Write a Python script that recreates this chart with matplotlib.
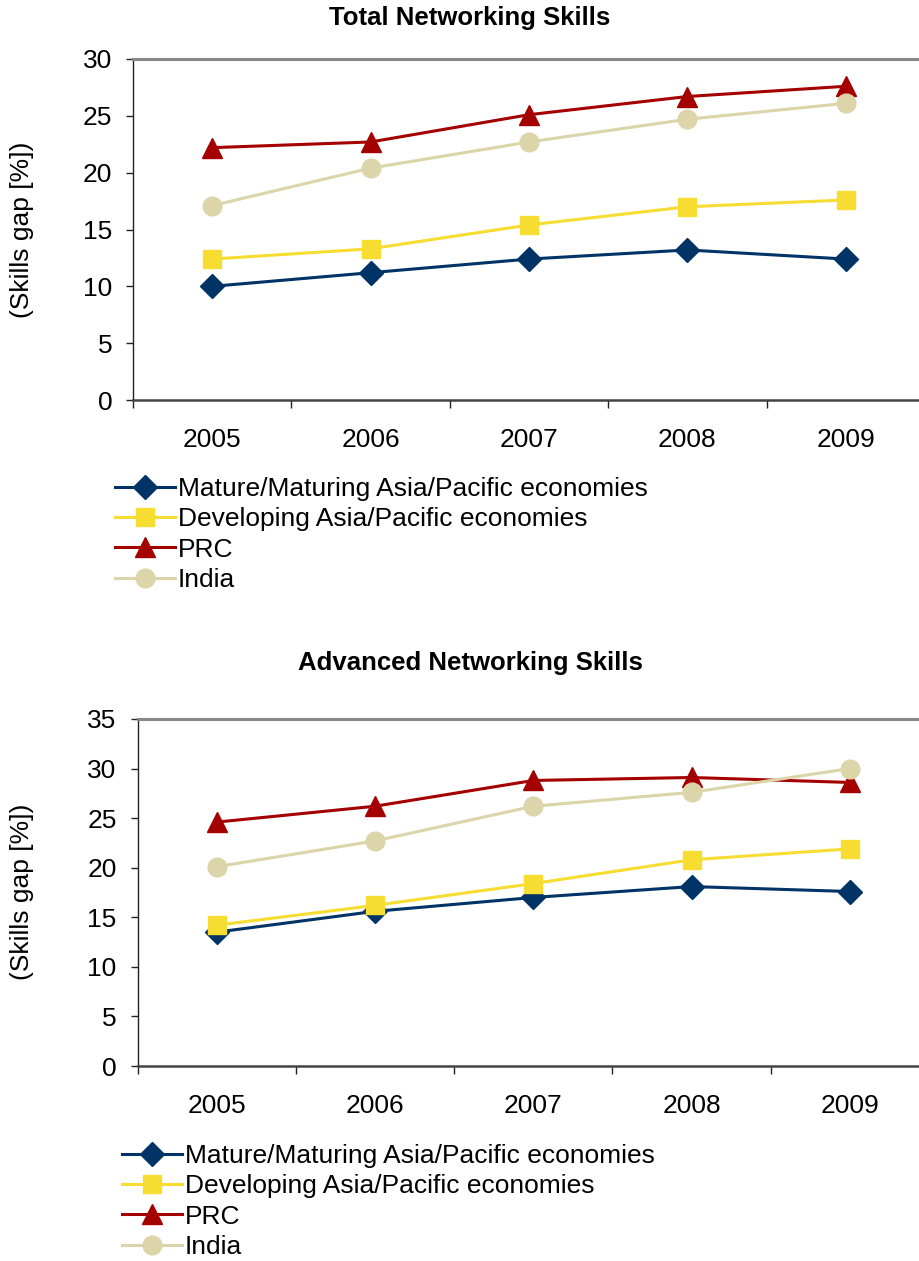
import numpy as np
import matplotlib
matplotlib.use("Agg")
import matplotlib.pyplot as plt

plt.rcParams["font.family"] = ["Liberation Sans", "DejaVu Sans"]

years = ["2005", "2006", "2007", "2008", "2009"]
series_names = [
    "Mature/Maturing Asia/Pacific economies",
    "Developing Asia/Pacific economies",
    "PRC",
    "India",
]

# skills gap in percent, one list per group
total_mature = [10.0, 11.2, 12.4, 13.2, 12.4]
total_developing = [12.4, 13.3, 15.4, 17.0, 17.6]
total_prc = [22.2, 22.7, 25.1, 26.7, 27.6]
total_india = [17.1, 20.4, 22.7, 24.7, 26.1]

adv_mature = [13.5, 15.6, 17.0, 18.1, 17.6]
adv_developing = [14.2, 16.2, 18.4, 20.8, 21.9]
adv_prc = [24.6, 26.2, 28.8, 29.1, 28.6]
adv_india = [20.1, 22.7, 26.2, 27.6, 30.0]

colors = ["#003366", "#F7DC32", "#A50000", "#DDD5AA"]
markers = ["D", "s", "^", "o"]
msizes = [12, 13, 14, 13.5]

W, H = 919, 1261
FS = 19
fig = plt.figure(figsize=(W / 100, H / 100), dpi=100)


def px_axes(left, right, top, bottom):
    return fig.add_axes([left / W, 1 - bottom / H, (right - left) / W, (bottom - top) / H])


def draw_panel(ax, data, ymax):
    x = np.arange(len(years))
    for vals, c, m, ms, name in zip(data, colors, markers, msizes, series_names):
        ax.plot(x, vals, color=c, lw=2.2, marker=m, ms=ms, mec=c, mfc=c,
                label=name, clip_on=False)
    ax.set_xlim(-0.5, len(years) - 0.5)
    ax.set_ylim(0, ymax)
    ax.set_yticks(np.arange(0, ymax + 1, 5))
    ax.set_xticks(np.arange(-0.5, len(years), 1.0))
    ax.set_xticklabels([])
    ax.set_xticks(x, minor=True)
    ax.set_xticklabels(years, minor=True)
    ax.tick_params(axis="x", which="major", direction="out", length=6, width=1, color="#222222")
    ax.tick_params(axis="x", which="minor", length=0, pad=20, labelsize=FS)
    ax.tick_params(axis="y", direction="out", length=5, width=1, pad=10, labelsize=FS,
                   color="#222222")
    ax.spines["right"].set_visible(False)
    ax.spines["top"].set_color("#888888")
    ax.spines["top"].set_linewidth(2.2)
    ax.spines["left"].set_color("#222222")
    ax.spines["left"].set_linewidth(1.0)
    ax.spines["bottom"].set_color("#444444")
    ax.spines["bottom"].set_linewidth(1.8)


ax1 = px_axes(133, 925, 59, 400)
draw_panel(ax1, [total_mature, total_developing, total_prc, total_india], 30)

ax2 = px_axes(137.5, 929, 719, 1066)
draw_panel(ax2, [adv_mature, adv_developing, adv_prc, adv_india], 35)

fig.text(470 / W, 1 - 18 / H, "Total Networking Skills", ha="center", va="center",
         fontsize=18.5, fontweight="bold")
fig.text(470 / W, 1 - 663 / H, "Advanced Networking Skills", ha="center", va="center",
         fontsize=18.5, fontweight="bold")

fig.text(22 / W, 1 - 230 / H, "(Skills gap [%])", rotation=90, ha="center", va="center",
         fontsize=FS)
fig.text(22 / W, 1 - 892 / H, "(Skills gap [%])", rotation=90, ha="center", va="center",
         fontsize=FS)

for ax, lx, ty in [(ax1, 115, 477), (ax2, 122, 1144)]:
    handles, labels = ax.get_legend_handles_labels()
    fig.legend(handles, labels, loc="upper left", bbox_to_anchor=(lx / W, 1 - ty / H),
               bbox_transform=fig.transFigure, frameon=False, fontsize=FS,
               handlelength=2.27, handletextpad=0.1, labelspacing=0.24,
               borderpad=0, borderaxespad=0)

fig.savefig("out.png", dpi=100)
